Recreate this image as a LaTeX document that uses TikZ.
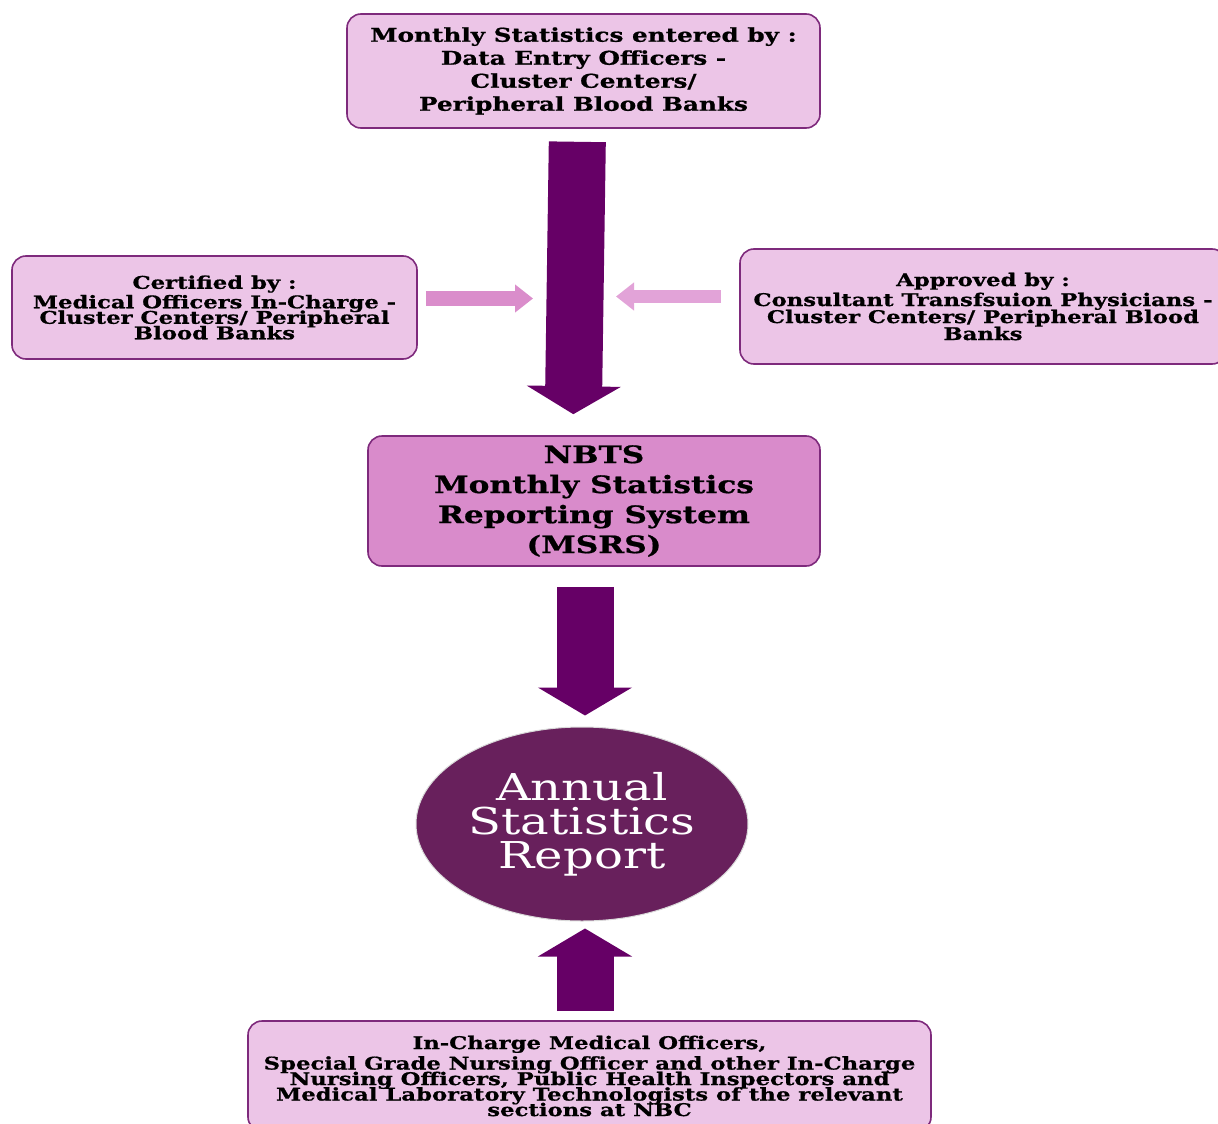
\documentclass[tikz,border=0pt]{standalone}
\usepackage{fontspec}
\setmainfont{DejaVu Serif}
\newfontfamily\wideserif[FakeStretch=1.3, BoldFeatures={FakeBold=0.8}]{DejaVu Serif}
\newcommand\tightlines{\lineskiplimit=-50pt\relax}
\usetikzlibrary{arrows.meta}
\usetikzlibrary{shapes.geometric}

\definecolor{boxpink}{HTML}{ECC5E7}
\definecolor{boxline}{HTML}{7E2A7C}
\definecolor{msrspink}{HTML}{D98BCB}
\definecolor{darkplum}{HTML}{660066}
\definecolor{reportplum}{HTML}{68205C}
\definecolor{leftpink}{HTML}{DA8DCB}
\definecolor{rightpink}{HTML}{E2A3D8}

\begin{document}
\begin{tikzpicture}[x=1pt,y=-1pt,
  box/.style={draw=boxline, line width=1.6pt, fill=boxpink, rounded corners=14pt, align=center, inner sep=0pt},
  boxfont/.style 2 args={font=\wideserif\bfseries\fontsize{#1}{#2}\selectfont\tightlines},
  bigarrow/.style={darkplum, line width=57pt, -{Triangle[length=28pt,width=93pt]}},
  sidearrow/.style={line width=#1, -{Triangle[length=18pt,width=27pt]}}]
\useasboundingbox (0,0) rectangle (1218,1124);

% boxes
\node[box, boxfont={19}{23}, minimum width=473pt, minimum height=114pt] (entry) at (583.5,71)
  {Monthly Statistics entered by :\\ Data Entry Officers -\\ Cluster Centers/\\ Peripheral Blood Banks};
\node[box, boxfont={17.5}{15.5}, minimum width=405pt, minimum height=103pt] (certified) at (214.5,307.5)
  {Certified by :\\[4pt] Medical Officers In-Charge -\\ Cluster Centers/ Peripheral\\ Blood Banks};
\node[box, boxfont={17.5}{17}, minimum width=486pt, minimum height=115pt] (approved) at (983,306.5)
  {Approved by :\\[3pt] Consultant Transfsuion Physicians -\\ Cluster Centers/ Peripheral Blood\\ Banks};
\node[box, boxfont={24}{30}, fill=msrspink, minimum width=452pt, minimum height=130pt] (msrs) at (594,501)
  {NBTS\\ Monthly Statistics\\ Reporting System\\ (MSRS)};
\node[ellipse, fill=reportplum, draw=white!85!black, line width=1pt, text=white, font=\wideserif\fontsize{37}{34}\selectfont\tightlines, minimum width=332pt, minimum height=194pt, inner sep=0pt, align=center] (report) at (582,824)
  {Annual\\ Statistics\\ Report};
\node[box, boxfont={17.5}{15.5}, minimum width=683pt, minimum height=110pt] (staff) at (589.5,1076)
  {In-Charge Medical Officers,\\[5pt] Special Grade Nursing Officer and other In-Charge\\ Nursing Officers, Public Health Inspectors and\\ Medical Laboratory Technologists of the relevant\\ sections at NBC};

% free ends of the side arrows
\coordinate (mergeL) at (533,298.5);
\coordinate (mergeR) at (616,296.5);

% arrows
\draw[bigarrow, shorten <=13pt, shorten >=21pt] ([xshift=-6pt]entry.south) -- ([xshift=-21pt]msrs.north);
\draw[bigarrow, shorten <=20pt, shorten >=11pt] ([xshift=-9pt]msrs.south) -- ([xshift=3pt]report.north);
\draw[bigarrow, shorten <=9pt, shorten >=7pt] ([xshift=-4.5pt]staff.north) -- ([xshift=3pt]report.south);
\draw[sidearrow=15pt, leftpink, shorten <=8pt] ([yshift=9pt]certified.east) -- (mergeL);
\draw[sidearrow=13pt, rightpink, shorten <=18pt] ([yshift=10pt]approved.west) -- (mergeR);
\end{tikzpicture}
\end{document}
